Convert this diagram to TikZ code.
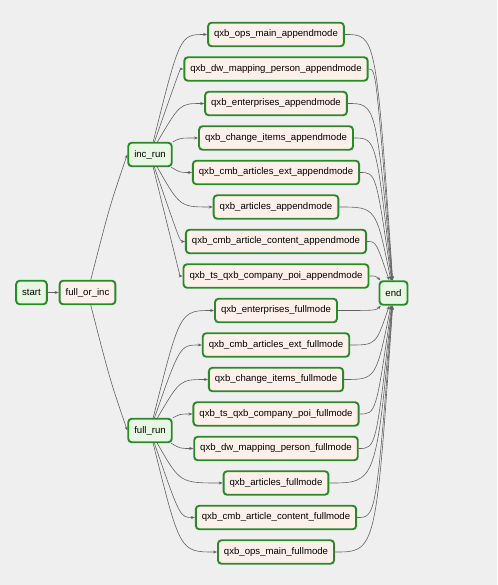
\documentclass[tikz,border=0pt]{standalone}
\usepackage{fontspec}
\setmainfont{Liberation Sans}
\usetikzlibrary{arrows.meta}

\definecolor{bggray}{HTML}{EFEFEF}
\definecolor{okgreen}{HTML}{2A8A2A}
\definecolor{dummyfill}{HTML}{E8F7E4}
\definecolor{taskfill}{HTML}{FDF0EA}
\definecolor{edgegray}{HTML}{626262}

\begin{document}
\begin{tikzpicture}[
        x=1pt, y=-1pt,
        task/.style={draw=okgreen, line width=1.9pt, rounded corners=3.5pt, fill=taskfill,
            inner xsep=6pt, minimum height=23.5pt, text=black,
            font=\fontsize{9.6}{11}\selectfont},
        dnode/.style={task, fill=dummyfill},
        edge/.style={draw=edgegray, line width=0.6pt},
        >={Stealth[length=4pt,width=3pt]}]

        \useasboundingbox[fill=bggray] (0,0) rectangle (497,585);

        % --- LEFT: start, branch and the two runs ---
        \node[dnode] (start) at (31.5,292.5) {start};
        \node[task] (full_or_inc) at (87.5,292.5) {full\_or\_inc};
        \node[dnode] (inc_run) at (150,154.5) {inc\_run};
        \node[dnode] (full_run) at (150,430.5) {full\_run};
        \node[dnode] (end) at (393.5,293) {end};

        \draw[edge, ->] (start) -- (full_or_inc);
        \draw[edge, ->] (full_or_inc) .. controls (110,205) .. (inc_run.west);
        \draw[edge, ->] (full_or_inc) .. controls (110,380) .. (full_run.west);

        % --- MIDDLE TOP: append mode tasks ---
        \foreach \name [count=\i] in {qxb\_ops\_main, qxb\_dw\_mapping\_person,
                qxb\_enterprises, qxb\_change\_items, qxb\_cmb\_articles\_ext,
                qxb\_articles, qxb\_cmb\_article\_content, qxb\_ts\_qxb\_company\_poi}
            \node[task] (app\i) at (276,34.5*\i) {\name\_appendmode};

        % --- MIDDLE BOTTOM: full mode tasks ---
        \foreach \name [count=\i] in {qxb\_enterprises, qxb\_cmb\_articles\_ext,
                qxb\_change\_items, qxb\_ts\_qxb\_company\_poi, qxb\_dw\_mapping\_person,
                qxb\_articles, qxb\_cmb\_article\_content, qxb\_ops\_main}
            \node[task] (full\i) at (276,34.5*\i+276) {\name\_fullmode};

        % Fan out from the runs, fan in to end
        \foreach \i in {1,...,8} {
            \draw[edge, ->] (inc_run) .. controls (180,34.5*\i) .. (app\i.west);
            \draw[edge, ->] (app\i.east) .. controls (376,34.5*\i) .. (end);
            \draw[edge, ->] (full_run) .. controls (180,34.5*\i+276) .. (full\i.west);
            \draw[edge, ->] (full\i.east) .. controls (376,34.5*\i+276) .. (end);
        }

    \end{tikzpicture}
\end{document}
